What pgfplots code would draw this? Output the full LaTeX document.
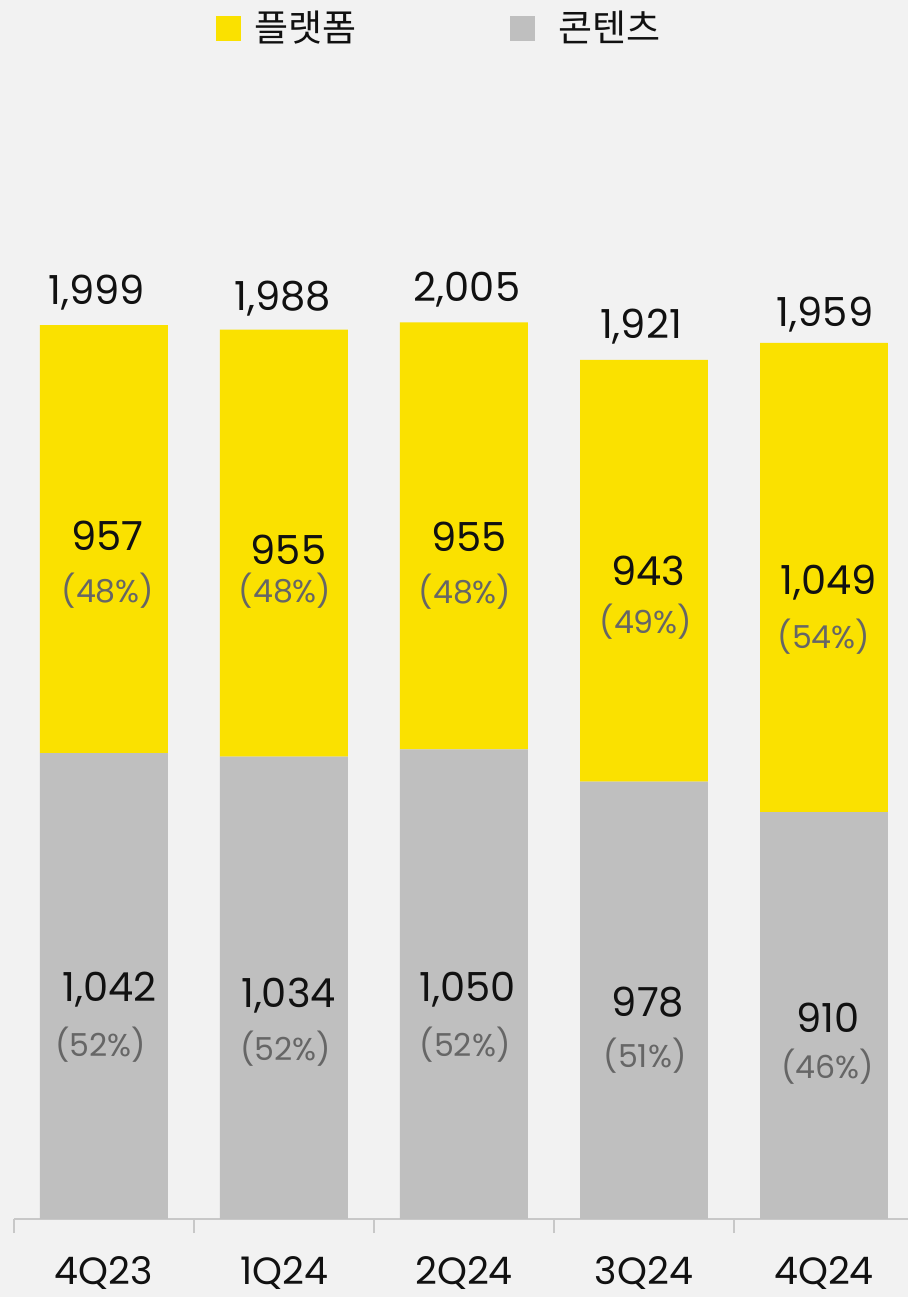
\documentclass[border=0pt]{standalone}
\usepackage{fontspec}
\setmainfont{Poppins}
\newfontfamily\cjk{Noto Sans CJK KR}
\usepackage{pgfplots}
\pgfplotsset{compat=1.18}
\definecolor{kyellow}{HTML}{FAE100}
\definecolor{kgray}{HTML}{BFBFBF}
\definecolor{bg}{HTML}{F2F2F2}
\definecolor{axgray}{HTML}{C8C8C8}
\definecolor{pctgray}{HTML}{666666}
\definecolor{txt}{HTML}{111111}
\tikzset{
  val/.style={font=\fontsize{20}{24}\selectfont, text=txt, text height=14pt, text depth=0pt, inner sep=0pt, anchor=center},
  pct/.style={font=\fontsize{15.8}{20}\selectfont, text=pctgray, text height=11pt, text depth=0pt, inner sep=0pt, anchor=center}
}
\pgfplotsset{
  frame/.style={at={(7pt,39pt)}, anchor=south west,
  scale only axis, width=447pt, height=609.5pt,
  xmin=-0.5, xmax=4.4667, ymin=0, ymax=2726, clip=false}
}
\begin{document}
\begin{tikzpicture}
\path[use as bounding box, fill=bg] (0,0) rectangle (454pt,648.5pt);
\begin{axis}[
  frame,
  ybar stacked, bar width=0.7111,
  axis x line*=bottom, axis y line=none,
  x axis line style={-, draw=axgray, line width=0.8pt},
  xtick={0,1,2,3,4}, xticklabels={4Q23,1Q24,2Q24,3Q24,4Q24},
  minor xtick={-0.5,0.5,1.5,2.5,3.5,4.5},
  tick align=outside, major tick length=0pt, minor tick length=7pt,
  minor tick style={draw=axgray, line width=0.8pt},
  xticklabel style={anchor=base, inner sep=0pt, text depth=0pt, yshift=-33pt, font=\fontsize{19}{24}\selectfont, text=txt},
  legend columns=2,
  legend image code/.code={\fill[#1] (0pt,-6.25pt) rectangle (12.5pt,6.25pt);},
  legend style={at={(0.2260,0.9770)}, anchor=west, draw=none, fill=none,
    inner sep=0pt, outer sep=0pt, font=\cjk\fontsize{18.5}{22}\selectfont, text=txt,
    nodes={inner sep=0pt},
    /tikz/column 1/.style={column sep=6.5pt},
    /tikz/column 2/.style={column sep=77pt},
    /tikz/column 3/.style={column sep=11.5pt}},
]
\addlegendimage{fill=kyellow, draw=none}
\addlegendentry{플랫폼}
\addlegendimage{fill=kgray, draw=none}
\addlegendentry{콘텐츠}
\addplot[fill=kgray, draw=none, forget plot] coordinates {(0,1042) (1,1034) (2,1050) (3,978) (4,910)};
\addplot[fill=kyellow, draw=none, forget plot] coordinates {(0,957) (1,955) (2,955) (3,943) (4,1049)};
\end{axis}
\begin{axis}[frame, hide axis]
% totals
\node[val] at (axis cs:-0.039,2077) {1,999};
\node[val] at (axis cs:0.994,2064) {1,988};
\node[val] at (axis cs:2.017,2084) {2,005};
\node[val] at (axis cs:2.983,2001) {1,921};
\node[val] at (axis cs:4.006,2028) {1,959};
% platform values
\node[val] at (axis cs:0.019,1527) {957};
\node[val] at (axis cs:1.025,1494) {955};
\node[val] at (axis cs:2.028,1523) {955};
\node[val] at (axis cs:3.025,1447) {943};
\node[val] at (axis cs:4.025,1427) {1,049};
\node[pct] at (axis cs:0.022,1404) {(48\%)};
\node[pct] at (axis cs:1.006,1404) {(48\%)};
\node[pct] at (axis cs:2.006,1402) {(48\%)};
\node[pct] at (axis cs:3.011,1333) {(49\%)};
\node[pct] at (axis cs:4.000,1301) {(54\%)};
% content values
\node[val] at (axis cs:0.031,517) {1,042};
\node[val] at (axis cs:1.025,505) {1,034};
\node[val] at (axis cs:2.022,517) {1,050};
\node[val] at (axis cs:3.022,485) {978};
\node[val] at (axis cs:4.022,449) {910};
\node[pct] at (axis cs:-0.017,389) {(52\%)};
\node[pct] at (axis cs:1.011,380) {(52\%)};
\node[pct] at (axis cs:2.006,389) {(52\%)};
\node[pct] at (axis cs:3.006,364) {(51\%)};
\node[pct] at (axis cs:4.022,338) {(46\%)};
\end{axis}
\end{tikzpicture}
\end{document}
